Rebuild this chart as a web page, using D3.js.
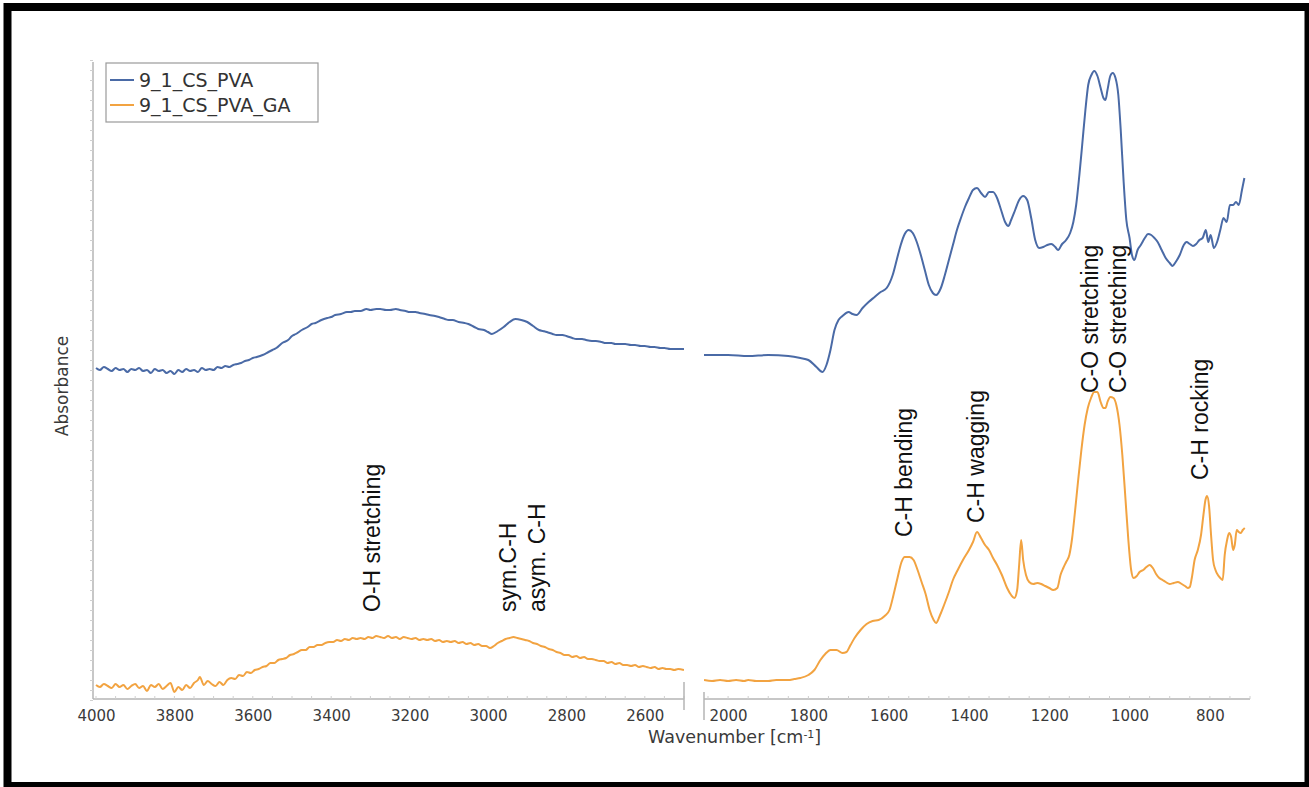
<!DOCTYPE html>
<html>
<head>
<meta charset="utf-8">
<script src="https://cdn.jsdelivr.net/npm/d3@7"></script>
<style>
  html, body { margin: 0; padding: 0; background: #fff; }
  svg { display: block; }
</style>
</head>
<body>
<svg id="chart" width="1309" height="787"></svg>
<script>
// FTIR spectra of 9_1_CS_PVA film before and after glutaraldehyde (GA) crosslinking.
// Each series is a list of [wavenumber (cm-1), absorbance (a.u.)] pairs, split into
// the high-wavenumber window (4000-2500) and the fingerprint window (2060-700).

const seriesNames = ["9_1_CS_PVA", "9_1_CS_PVA_GA"];

const pvaHigh = [
  [4000,3.32],[3990,3.30],[3980,3.33],[3970,3.31],[3960,3.29],[3950,3.32],[3940,3.30],
  [3930,3.31],[3920,3.28],[3910,3.31],[3900,3.30],[3890,3.32],[3880,3.29],[3870,3.30],
  [3860,3.27],[3850,3.31],[3840,3.29],[3830,3.30],[3820,3.27],[3810,3.29],[3800,3.26],
  [3790,3.30],[3780,3.28],[3770,3.31],[3760,3.29],[3750,3.30],[3740,3.28],[3730,3.32],
  [3720,3.30],[3710,3.31],[3700,3.30],[3690,3.33],[3680,3.32],[3670,3.34],[3660,3.33],
  [3650,3.35],[3640,3.36],[3630,3.37],[3620,3.39],[3610,3.40],[3600,3.42],[3590,3.43],
  [3575,3.45],[3560,3.48],[3550,3.50],[3540,3.52],[3525,3.57],[3510,3.60],[3500,3.64],
  [3490,3.66],[3475,3.70],[3460,3.73],[3450,3.76],[3440,3.77],[3425,3.80],[3410,3.82],
  [3400,3.83],[3390,3.85],[3375,3.86],[3360,3.88],[3350,3.88],[3340,3.89],[3325,3.89],
  [3310,3.91],[3300,3.90],[3285,3.91],[3275,3.91],[3260,3.90],[3250,3.90],[3235,3.91],
  [3225,3.90],[3210,3.89],[3200,3.88],[3185,3.88],[3175,3.87],[3160,3.86],[3150,3.85],
  [3135,3.84],[3125,3.83],[3110,3.81],[3100,3.80],[3090,3.80],[3075,3.78],[3060,3.77],
  [3050,3.76],[3035,3.73],[3025,3.71],[3010,3.70],[3000,3.68],[2990,3.66],[2975,3.69],
  [2960,3.73],[2945,3.78],[2930,3.81],[2915,3.80],[2900,3.78],[2885,3.74],[2870,3.70],
  [2860,3.69],[2850,3.68],[2835,3.66],[2825,3.65],[2810,3.65],[2800,3.64],[2785,3.62],
  [2775,3.61],[2760,3.61],[2750,3.60],[2735,3.59],[2725,3.59],[2710,3.58],[2700,3.57],
  [2685,3.57],[2675,3.56],[2660,3.56],[2650,3.56],[2635,3.55],[2625,3.55],[2610,3.54],
  [2600,3.54],[2585,3.53],[2575,3.53],[2560,3.52],[2550,3.52],[2535,3.51],[2525,3.51],
  [2510,3.51],[2500,3.51]
];

const pvaLow = [
  [2060,3.45],[2000,3.45],[1950,3.44],[1900,3.45],[1850,3.44],[1820,3.42],[1800,3.40],
  [1780,3.33],[1765,3.28],[1755,3.35],[1745,3.50],[1735,3.70],[1725,3.80],[1715,3.84],
  [1700,3.88],[1690,3.86],[1680,3.85],[1665,3.92],[1650,3.98],[1635,4.03],[1620,4.08],
  [1605,4.12],[1590,4.25],[1580,4.40],[1570,4.55],[1560,4.66],[1550,4.70],[1540,4.67],
  [1530,4.58],[1520,4.45],[1510,4.30],[1500,4.15],[1490,4.07],[1482,4.05],[1470,4.12],
  [1460,4.25],[1450,4.40],[1440,4.55],[1430,4.70],[1420,4.82],[1410,4.93],[1400,5.02],
  [1390,5.10],[1380,5.12],[1370,5.07],[1360,5.03],[1350,5.08],[1340,5.08],[1330,5.02],
  [1320,4.90],[1310,4.78],[1302,4.74],[1295,4.80],[1285,4.90],[1275,5.00],[1265,5.04],
  [1255,5.00],[1245,4.82],[1235,4.60],[1225,4.52],[1215,4.53],[1205,4.55],[1195,4.56],
  [1185,4.53],[1178,4.50],[1168,4.56],[1158,4.60],[1148,4.67],[1140,4.78],[1133,4.95],
  [1125,5.25],[1118,5.55],[1110,5.90],[1103,6.15],[1095,6.25],[1088,6.29],[1080,6.24],
  [1072,6.12],[1065,6.02],[1060,6.00],[1055,6.10],[1048,6.24],[1042,6.27],[1035,6.22],
  [1028,6.05],[1022,5.70],[1015,5.20],[1008,4.80],[1000,4.62],[994,4.45],[988,4.40],
  [980,4.50],[972,4.55],[962,4.62],[954,4.66],[946,4.65],[938,4.62],[930,4.58],
  [920,4.50],[910,4.42],[900,4.37],[893,4.34],[885,4.38],[875,4.45],[865,4.55],
  [858,4.58],[850,4.56],[842,4.54],[834,4.56],[826,4.60],[818,4.62],[810,4.70],
  [804,4.58],[798,4.65],[790,4.52],[782,4.58],[774,4.70],[766,4.82],[758,4.78],
  [750,4.95],[742,4.95],[735,4.98],[728,4.95],[720,5.10],[714,5.22]
];

const pvaGaHigh = [
  [4000,0.15],[3990,0.13],[3980,0.16],[3970,0.14],[3960,0.12],[3950,0.16],[3940,0.13],
  [3930,0.15],[3920,0.11],[3910,0.14],[3900,0.16],[3890,0.12],[3880,0.14],[3870,0.09],
  [3860,0.15],[3850,0.13],[3840,0.16],[3830,0.11],[3820,0.14],[3810,0.17],[3800,0.08],
  [3790,0.13],[3780,0.10],[3770,0.15],[3760,0.12],[3750,0.17],[3740,0.20],[3735,0.23],
  [3725,0.15],[3715,0.19],[3705,0.16],[3695,0.14],[3685,0.18],[3675,0.15],[3665,0.20],
  [3655,0.22],[3645,0.21],[3635,0.25],[3625,0.24],[3615,0.28],[3605,0.27],[3595,0.30],
  [3585,0.31],[3575,0.33],[3565,0.34],[3555,0.37],[3545,0.37],[3535,0.40],[3525,0.41],
  [3515,0.42],[3505,0.45],[3495,0.46],[3485,0.48],[3475,0.50],[3465,0.50],[3455,0.53],
  [3445,0.53],[3435,0.55],[3425,0.55],[3415,0.57],[3405,0.58],[3395,0.58],[3385,0.60],
  [3375,0.59],[3365,0.61],[3355,0.60],[3345,0.62],[3335,0.61],[3325,0.62],[3315,0.61],
  [3305,0.63],[3295,0.62],[3285,0.64],[3275,0.63],[3265,0.62],[3255,0.64],[3245,0.62],
  [3235,0.63],[3225,0.61],[3215,0.63],[3205,0.62],[3195,0.61],[3185,0.62],[3175,0.60],
  [3165,0.61],[3155,0.60],[3145,0.61],[3135,0.59],[3125,0.60],[3115,0.58],[3105,0.59],
  [3095,0.58],[3085,0.59],[3075,0.57],[3065,0.58],[3055,0.56],[3045,0.57],[3035,0.55],
  [3025,0.56],[3015,0.54],[3005,0.54],[2995,0.52],[2985,0.54],[2975,0.57],[2965,0.59],
  [2955,0.61],[2945,0.62],[2935,0.63],[2925,0.62],[2915,0.61],[2905,0.60],[2895,0.59],
  [2885,0.57],[2875,0.56],[2865,0.54],[2855,0.53],[2845,0.51],[2835,0.50],[2825,0.48],
  [2815,0.47],[2805,0.45],[2795,0.45],[2785,0.43],[2775,0.44],[2765,0.42],[2755,0.43],
  [2745,0.41],[2735,0.41],[2725,0.40],[2715,0.39],[2705,0.39],[2695,0.37],[2685,0.38],
  [2675,0.36],[2665,0.37],[2655,0.35],[2645,0.35],[2635,0.34],[2625,0.35],[2615,0.33],
  [2605,0.34],[2595,0.33],[2585,0.32],[2575,0.33],[2565,0.31],[2555,0.32],[2545,0.31],
  [2535,0.31],[2525,0.30],[2515,0.31],[2500,0.30]
];

const pvaGaLow = [
  [2060,0.20],[2040,0.19],[2020,0.20],[2000,0.19],[1980,0.20],[1960,0.19],[1950,0.20],
  [1930,0.19],[1900,0.19],[1880,0.20],[1850,0.20],[1835,0.21],[1820,0.22],[1800,0.25],
  [1785,0.30],[1770,0.40],[1758,0.46],[1745,0.50],[1730,0.50],[1715,0.47],[1705,0.48],
  [1695,0.55],[1685,0.62],[1670,0.70],[1655,0.76],[1640,0.79],[1625,0.80],[1610,0.84],
  [1598,0.90],[1588,1.05],[1578,1.22],[1568,1.38],[1560,1.43],[1548,1.43],[1538,1.40],
  [1528,1.30],[1518,1.18],[1508,1.06],[1498,0.90],[1488,0.80],[1482,0.77],[1472,0.85],
  [1462,0.95],[1450,1.08],[1440,1.20],[1428,1.30],[1415,1.40],[1400,1.50],[1390,1.58],
  [1380,1.68],[1370,1.62],[1360,1.55],[1350,1.50],[1340,1.42],[1330,1.35],[1318,1.25],
  [1305,1.12],[1295,1.05],[1287,1.02],[1280,1.10],[1275,1.35],[1270,1.60],[1265,1.40],
  [1258,1.25],[1250,1.18],[1240,1.16],[1230,1.17],[1220,1.16],[1210,1.14],[1200,1.12],
  [1190,1.10],[1180,1.12],[1172,1.25],[1165,1.32],[1158,1.38],[1150,1.45],[1143,1.62],
  [1136,1.88],[1128,2.20],[1120,2.50],[1112,2.75],[1104,2.92],[1096,3.02],[1088,3.08],
  [1080,3.08],[1072,2.98],[1065,2.92],[1060,2.92],[1055,2.98],[1048,3.03],[1040,3.02],
  [1033,2.95],[1025,2.75],[1018,2.45],[1010,2.00],[1003,1.60],[996,1.30],[990,1.22],
  [982,1.24],[975,1.28],[966,1.30],[958,1.33],[950,1.35],[942,1.32],[934,1.26],
  [926,1.22],[918,1.20],[910,1.18],[900,1.16],[890,1.17],[880,1.18],[870,1.16],
  [862,1.14],[855,1.12],[850,1.13],[845,1.22],[838,1.40],[830,1.50],[822,1.65],
  [816,1.85],[811,2.00],[807,2.04],[802,1.94],[797,1.65],[792,1.40],[786,1.30],
  [780,1.25],[774,1.22],[768,1.20],[763,1.45],[757,1.60],[752,1.67],[747,1.63],
  [742,1.50],[738,1.55],[733,1.70],[728,1.68],[723,1.67],[718,1.70],[713,1.72]
];

// Tick labels of the two wavenumber windows
const highTicks = [4000, 3800, 3600, 3400, 3200, 3000, 2800, 2600];
const lowTicks = [2000, 1800, 1600, 1400, 1200, 1000, 800];

// Band assignments: label, window, wavenumber, absorbance where the label starts
const bandLabels = ["O-H stretching", "sym.C-H", "asym. C-H", "C-H bending", "C-H wagging",
                    "C-O stretching", "C-O stretching", "C-H rocking"];
const bandWindow = ["high", "high", "high", "low", "low", "low", "low", "low"];
const bandWavenumber = [3276, 2929, 2855, 1542, 1363, 1079, 1009, 805];
const bandLevel = [0.88, 0.88, 0.88, 1.63, 1.77, 3.07, 3.07, 2.20];

const colors = ["#4a6aa6", "#f2a341"];

const svg = d3.select("#chart");
const W = 1309, H = 787;

svg.append("rect").attr("width", W).attr("height", H).attr("fill", "#fff");

const xHigh = d3.scaleLinear().domain([4000, 2500]).range([96, 684]);
const xLow = d3.scaleLinear().domain([2060, 700]).range([704, 1250]);
const y = d3.scaleLinear().domain([0, 6.4]).range([700, 60]);
const axisY = 699;

const tickFont = "'DejaVu Sans', sans-serif";
const axisGrey = "#b4b4b4";
const textGrey = "#3a3a3a";

// Clip each window so the traces stay inside their panels
const defs = svg.append("defs");
defs.append("clipPath").attr("id", "clip-high").append("rect")
  .attr("x", 93).attr("y", 55).attr("width", 684 - 93).attr("height", 645);
defs.append("clipPath").attr("id", "clip-low").append("rect")
  .attr("x", 704).attr("y", 55).attr("width", 1250 - 704).attr("height", 645);

// Vertical absorbance axis (no labels, fine ticks)
const yAxis = d3.axisLeft(y).ticks(80).tickSize(3).tickFormat("");
const gy = svg.append("g").attr("transform", "translate(93,0)").call(yAxis);
gy.select(".domain").attr("stroke", axisGrey).attr("stroke-width", 1.5)
  .attr("d", `M0,${62}V${axisY}`);
gy.selectAll(".tick line").attr("stroke", "#d0d0d0");

// Wavenumber axes for the two windows
function drawX(scale, ticks, x0, x1) {
  const g = svg.append("g").attr("transform", `translate(0,${axisY})`);
  g.call(d3.axisBottom(scale).tickValues(ticks).tickSize(0).tickPadding(11)
           .tickFormat(d3.format("d")));
  g.select(".domain").attr("stroke", axisGrey).attr("stroke-width", 1.5)
    .attr("d", `M${x0},0H${x1}`);
  g.selectAll(".tick text").attr("fill", textGrey)
    .style("font-family", tickFont).style("font-size", "15px");
  // minor ticks
  const minor = d3.range(Math.ceil(d3.min(scale.domain()) / 50) * 50,
                         d3.max(scale.domain()) + 1, 50);
  g.selectAll(".minor").data(minor).join("line").attr("class", "minor")
    .attr("x1", d => scale(d)).attr("x2", d => scale(d))
    .attr("y1", -3).attr("y2", 0).attr("stroke", "#cfcfcf");
  return g;
}
drawX(xHigh, highTicks, 93, 684);
drawX(xLow, lowTicks, 704, 1250);

// Axis break markers
svg.append("line").attr("x1", 684).attr("x2", 684).attr("y1", 682).attr("y2", 710)
  .attr("stroke", axisGrey).attr("stroke-width", 1.5);
svg.append("line").attr("x1", 704).attr("x2", 704).attr("y1", 692).attr("y2", 720)
  .attr("stroke", axisGrey).attr("stroke-width", 1.5);

// Axis titles
const xt = svg.append("text").attr("x", 648).attr("y", 743)
  .attr("fill", textGrey).style("font-family", tickFont).style("font-size", "17.5px");
xt.append("tspan").text("Wavenumber [cm");
xt.append("tspan").attr("dy", -5).style("font-size", "11px").text("-1");
xt.append("tspan").attr("dy", 5).text("]");

svg.append("text").attr("transform", "translate(68,386) rotate(-90)")
  .attr("text-anchor", "middle").attr("fill", textGrey)
  .style("font-family", tickFont).style("font-size", "17px").text("Absorbance");

// Spectra
const lineHigh = d3.line().x(d => xHigh(d[0])).y(d => y(d[1])).curve(d3.curveMonotoneX);
const lineLow = d3.line().x(d => xLow(d[0])).y(d => y(d[1])).curve(d3.curveMonotoneX);

const traces = [
  { data: pvaHigh, gen: lineHigh, clip: "clip-high", color: colors[0] },
  { data: pvaLow, gen: lineLow, clip: "clip-low", color: colors[0] },
  { data: pvaGaHigh, gen: lineHigh, clip: "clip-high", color: colors[1] },
  { data: pvaGaLow, gen: lineLow, clip: "clip-low", color: colors[1] }
];
traces.forEach(t => {
  svg.append("path").datum(t.data)
    .attr("clip-path", `url(#${t.clip})`)
    .attr("fill", "none").attr("stroke", t.color).attr("stroke-width", 2)
    .attr("stroke-linejoin", "round").attr("d", t.gen);
});

// Band assignment labels
bandLabels.forEach((label, i) => {
  const sx = bandWindow[i] === "high" ? xHigh : xLow;
  const bx = sx(bandWavenumber[i]);
  const by = y(bandLevel[i]);
  svg.append("text")
    .attr("transform", `translate(${bx},${by}) rotate(-90)`)
    .attr("fill", "#111")
    .style("font-family", "'Liberation Sans', Arial, sans-serif")
    .style("font-size", "23px")
    .text(label);
});

// Legend
const legend = svg.append("g");
legend.append("rect").attr("x", 106).attr("y", 63).attr("width", 212).attr("height", 59)
  .attr("fill", "#fff").attr("stroke", "#9a9a9a").attr("stroke-width", 1.2);
seriesNames.forEach((name, i) => {
  const ly = 80 + i * 25;
  legend.append("line").attr("x1", 110).attr("x2", 134).attr("y1", ly).attr("y2", ly)
    .attr("stroke", colors[i]).attr("stroke-width", 2);
  legend.append("text").attr("x", 139).attr("y", ly + 7)
    .attr("fill", "#333").style("font-family", tickFont).style("font-size", "19px")
    .text(name);
});

// Outer frame
svg.append("rect").attr("x", 7.5).attr("y", 7).attr("width", 1301).attr("height", 779)
  .attr("fill", "none").attr("stroke", "#000").attr("stroke-width", 8);
</script>
</body>
</html>
